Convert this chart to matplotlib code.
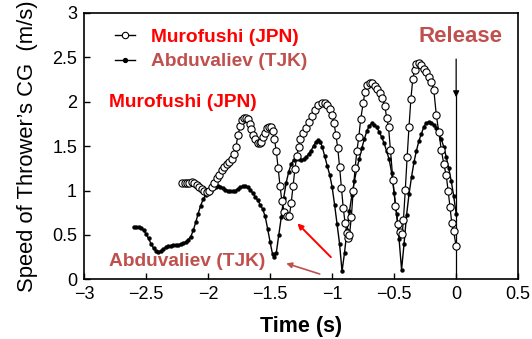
import matplotlib
matplotlib.use("Agg")
import matplotlib.pyplot as plt
from matplotlib.lines import Line2D

plt.rcParams['font.family'] = ['Liberation Sans', 'DejaVu Sans']

# ---------------- data ----------------
abd_t = [-2.60, -2.58, -2.56, -2.54, -2.52, -2.50, -2.48, -2.46, -2.44, -2.42,
         -2.40, -2.38, -2.36, -2.34, -2.32, -2.30, -2.28, -2.26, -2.24, -2.22,
         -2.20, -2.18, -2.16, -2.14, -2.12, -2.10, -2.08, -2.06, -2.04, -2.02,
         -2.00, -1.98, -1.96, -1.94, -1.92, -1.90, -1.88, -1.86, -1.84, -1.82,
         -1.80, -1.78, -1.76, -1.74, -1.72, -1.70, -1.68, -1.66, -1.64, -1.62,
         -1.60, -1.58, -1.56, -1.54, -1.52, -1.50, -1.48, -1.465, -1.45, -1.43,
         -1.41, -1.39, -1.37, -1.35, -1.33, -1.31, -1.29, -1.27, -1.25, -1.23,
         -1.21, -1.19, -1.17, -1.15, -1.13, -1.11, -1.095, -1.08, -1.06, -1.04,
         -1.02, -1.00, -0.98, -0.96, -0.94, -0.92, -0.90, -0.88, -0.86, -0.84,
         -0.82, -0.80, -0.78, -0.76, -0.74, -0.72, -0.70, -0.68, -0.66, -0.64,
         -0.62, -0.60, -0.58, -0.56, -0.54, -0.52, -0.50, -0.48, -0.46, -0.44,
         -0.42, -0.40, -0.38, -0.36, -0.34, -0.32, -0.30, -0.28, -0.26, -0.24,
         -0.22, -0.20, -0.18, -0.16, -0.14, -0.12, -0.10, -0.08, -0.06, -0.04,
         -0.02, 0.00]
abd_v = [0.59, 0.59, 0.585, 0.575, 0.555, 0.51, 0.46, 0.40, 0.35, 0.32,
         0.31, 0.32, 0.34, 0.36, 0.375, 0.38, 0.385, 0.39, 0.39, 0.395,
         0.405, 0.42, 0.445, 0.48, 0.55, 0.64, 0.74, 0.83, 0.90, 0.95,
         0.98, 1.00, 1.03, 1.045, 1.05, 1.04, 1.03, 1.01, 1.00, 0.99,
         0.99, 1.00, 1.02, 1.035, 1.05, 1.05, 1.04, 1.01, 0.97, 0.93,
         0.89, 0.84, 0.79, 0.71, 0.57, 0.42, 0.28, 0.25, 0.30, 0.50,
         0.70, 0.92, 1.09, 1.21, 1.30, 1.34, 1.36, 1.355, 1.345, 1.35,
         1.375, 1.41, 1.45, 1.50, 1.55, 1.57, 1.55, 1.49, 1.39, 1.28,
         1.18, 1.04, 0.84, 0.62, 0.40, 0.09, 0.30, 0.55, 0.77, 0.95,
         1.11, 1.25, 1.36, 1.48, 1.58, 1.67, 1.73, 1.755, 1.74, 1.71,
         1.66, 1.60, 1.53, 1.44, 1.35, 1.20, 0.97, 0.74, 0.45, 0.11,
         0.40, 0.72, 0.96, 1.15, 1.32, 1.45, 1.56, 1.64, 1.72, 1.76,
         1.775, 1.76, 1.74, 1.70, 1.66, 1.58, 1.49, 1.38, 1.25, 1.11,
         0.94, 0.74]

muro_t = [-2.21, -2.19, -2.17, -2.15, -2.13, -2.11, -2.09, -2.07, -2.05, -2.03,
          -2.01, -1.99, -1.97, -1.95, -1.93, -1.91, -1.89, -1.87, -1.85, -1.83,
          -1.81, -1.79, -1.775, -1.76, -1.74, -1.725, -1.71, -1.695, -1.68, -1.665,
          -1.65, -1.635, -1.62, -1.60, -1.585, -1.57, -1.555, -1.54, -1.525, -1.51,
          -1.495, -1.48, -1.465, -1.45, -1.435, -1.42, -1.405, -1.385, -1.365, -1.345,
          -1.33, -1.315, -1.30, -1.285, -1.27, -1.255, -1.235, -1.21, -1.185, -1.16,
          -1.135, -1.11, -1.085, -1.06, -1.04, -1.02, -1.00, -0.985, -0.97, -0.955,
          -0.94, -0.925, -0.91, -0.895, -0.88, -0.87, -0.86, -0.845, -0.83, -0.815,
          -0.80, -0.785, -0.77, -0.75, -0.735, -0.715, -0.695, -0.675, -0.655, -0.635,
          -0.615, -0.595, -0.575, -0.56, -0.545, -0.53, -0.51, -0.49, -0.47, -0.45,
          -0.435, -0.425, -0.41, -0.395, -0.38, -0.365, -0.35, -0.335, -0.32, -0.30,
          -0.28, -0.26, -0.24, -0.22, -0.20, -0.18, -0.16, -0.14, -0.12, -0.10,
          -0.08, -0.065, -0.05, -0.035, -0.02, 0.00]
muro_v = [1.09, 1.08, 1.08, 1.09, 1.10, 1.085, 1.06, 1.04, 1.015, 0.99,
          0.985, 1.00, 1.035, 1.09, 1.14, 1.18, 1.23, 1.27, 1.30, 1.32,
          1.35, 1.41, 1.49, 1.62, 1.73, 1.79, 1.82, 1.815, 1.80, 1.75,
          1.69, 1.63, 1.58, 1.54, 1.53, 1.55, 1.60, 1.65, 1.70, 1.72,
          1.715, 1.67, 1.58, 1.44, 1.25, 1.05, 0.88, 0.76, 0.71, 0.71,
          0.86, 1.05, 1.24, 1.39, 1.49, 1.58, 1.65, 1.70, 1.77, 1.84,
          1.91, 1.96, 1.99, 1.99, 1.965, 1.92, 1.85, 1.76, 1.63, 1.48,
          1.27, 1.03, 0.80, 0.63, 0.52, 0.47, 0.50, 0.70, 1.00, 1.25,
          1.45, 1.60, 1.80, 1.98, 2.11, 2.19, 2.215, 2.21, 2.18, 2.14,
          2.10, 2.04, 1.95, 1.82, 1.71, 1.46, 1.12, 0.83, 0.62, 0.53,
          0.51, 0.67, 1.01, 1.38, 1.72, 2.03, 2.25, 2.36, 2.42, 2.435,
          2.41, 2.37, 2.33, 2.28, 2.22, 2.13, 1.85, 1.66, 1.46, 1.30,
          1.17, 1.00, 0.82, 0.63, 0.54, 0.37]

x_ticks = [-3, -2.5, -2, -1.5, -1, -0.5, 0, 0.5]
x_tick_labels = ['\u22123', '\u22122.5', '\u22122', '\u22121.5', '\u22121', '\u22120.5', '0', '0.5']
y_ticks = [0, 0.5, 1, 1.5, 2, 2.5, 3]
y_tick_labels = ['0', '0.5', '1', '1.5', '2', '2.5', '3']

name_muro = 'Murofushi (JPN)'
name_abd = 'Abduvaliev (TJK)'
release_time = 0.0

RED = '#ff0000'
BROWN = '#c0504d'

# ---------------- figure ----------------
fig = plt.figure(figsize=(5.32, 3.39), dpi=100)
ax = fig.add_axes([0.158, 0.176, 0.816, 0.786])

ax.plot(abd_t, abd_v, color='black', lw=1.0, marker='o', ms=2.8,
        mfc='black', mec='black', mew=0.3, zorder=3)
ax.plot(muro_t, muro_v, color='black', lw=0.9, marker='o', ms=5.2,
        mfc='white', mec='black', mew=0.8, zorder=4)

# release line + arrow
ax.vlines(release_time, 0, 2.1, color='black', lw=0.9, zorder=2)
ax.annotate('', xy=(release_time, 2.05), xytext=(release_time, 2.48),
            arrowprops=dict(arrowstyle='-|>', color='black', lw=0.9,
                            mutation_scale=9, shrinkA=0, shrinkB=0))
ax.text(-0.30, 2.73, 'Release', color=BROWN, fontsize=16, fontweight='bold',
        ha='left', va='center')

# annotations
ax.text(-2.80, 1.99, name_muro, color=RED, fontsize=13.8, fontweight='bold',
        ha='left', va='center')
ax.text(-2.80, 0.20, name_abd, color=BROWN, fontsize=13.8, fontweight='bold',
        ha='left', va='center')
ax.annotate('', xy=(-1.28, 0.63), xytext=(-1.01, 0.25),
            arrowprops=dict(arrowstyle='-|>', color=RED, lw=1.4,
                            mutation_scale=8, shrinkA=0, shrinkB=0))
ax.annotate('', xy=(-1.37, 0.18), xytext=(-1.10, 0.06),
            arrowprops=dict(arrowstyle='-|>', color=BROWN, lw=1.2,
                            mutation_scale=8, shrinkA=0, shrinkB=0))

# legend
handles = [
    Line2D([], [], color='black', lw=1.0, marker='o', ms=4.6, mfc='white',
           mec='black', mew=0.8),
    Line2D([], [], color='black', lw=1.0, marker='o', ms=2.8, mfc='black',
           mec='black'),
]
leg = ax.legend(handles, [name_muro, name_abd], loc='upper left',
                bbox_to_anchor=(0.072, 0.942), frameon=False, numpoints=1,
                handlelength=1.05, handletextpad=0.8, labelspacing=0.38,
                borderpad=0, borderaxespad=0,
                prop={'size': 13.8, 'weight': 'bold'})
for txt, c in zip(leg.get_texts(), [RED, BROWN]):
    txt.set_color(c)

ax.set_xlim(-3, 0.5)
ax.set_ylim(0, 3)
ax.set_xticks(x_ticks)
ax.set_xticklabels(x_tick_labels)
ax.set_yticks(y_ticks)
ax.set_yticklabels(y_tick_labels)
ax.tick_params(direction='in', length=4, width=1, labelsize=13, pad=5)
for s in ax.spines.values():
    s.set_linewidth(1.2)

ax.set_xlabel('Time (s)', fontsize=15.5, fontweight='bold', labelpad=9)
ax.set_ylabel('Speed of Thrower\u2019s CG  (m/s)', fontsize=15.8, labelpad=10)

fig.savefig('out.png', dpi=100)
